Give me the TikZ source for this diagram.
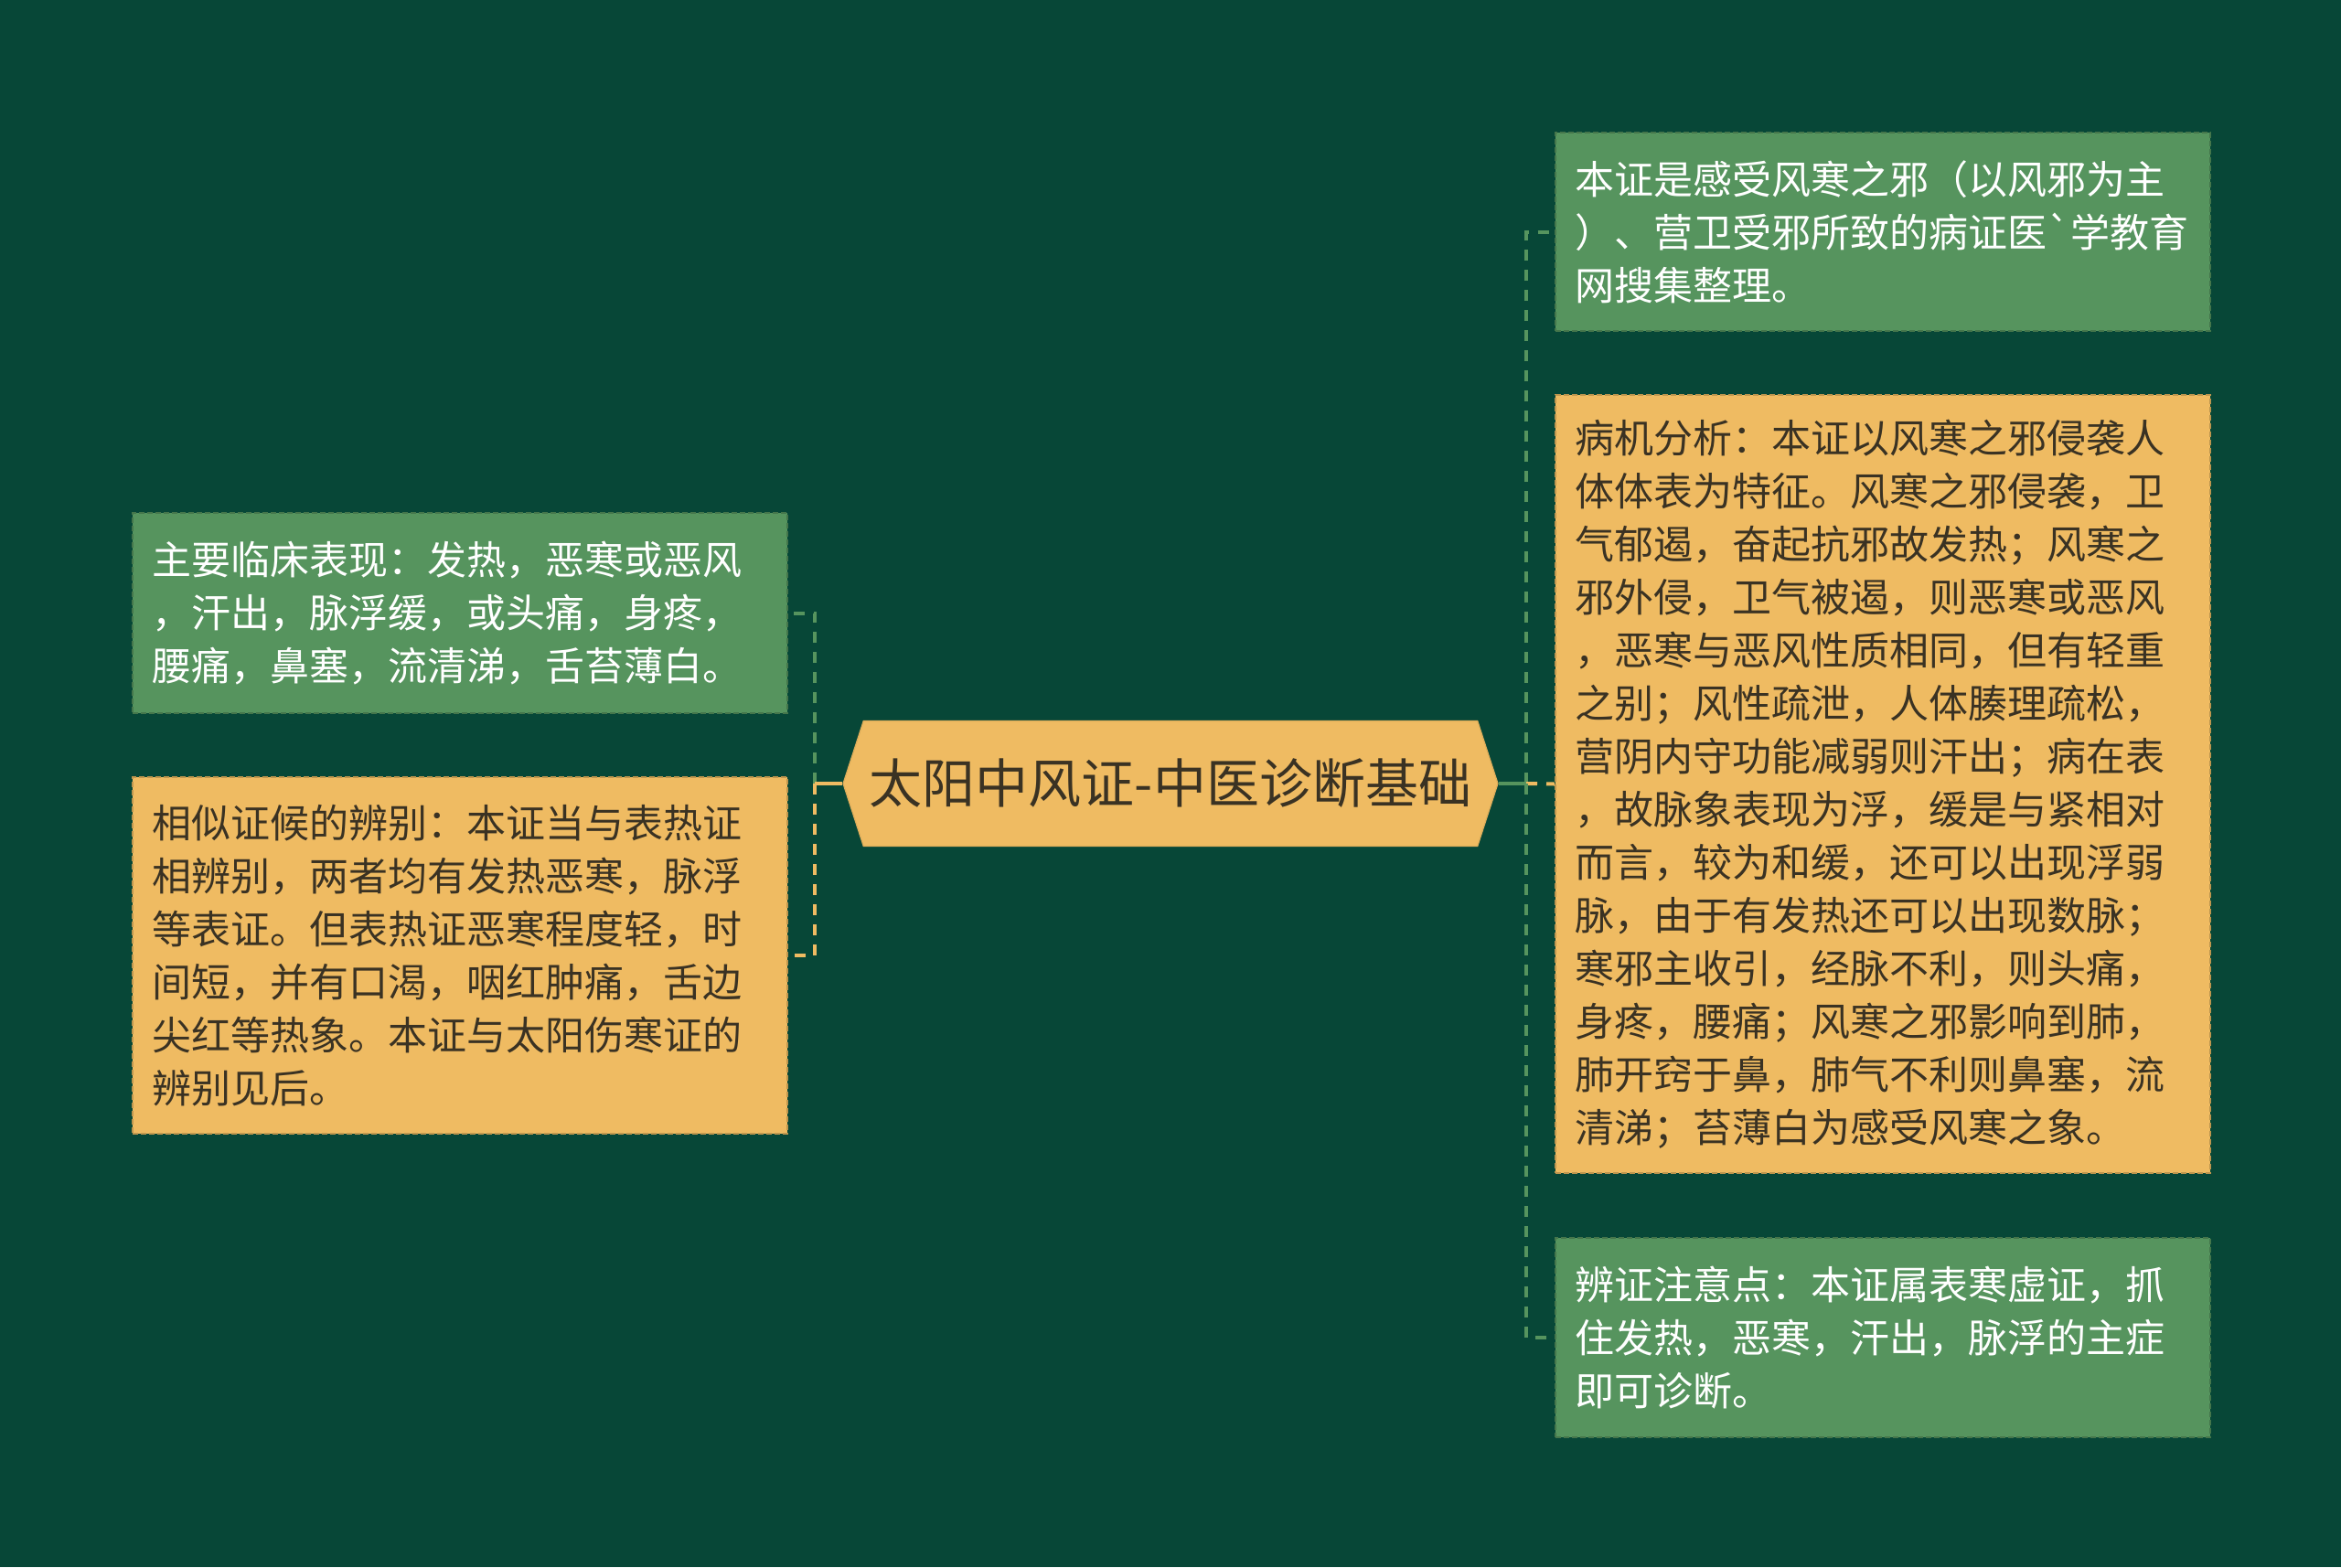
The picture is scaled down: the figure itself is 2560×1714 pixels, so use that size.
\documentclass[tikz,border=0pt]{standalone}
\usepackage{fontspec}
\usepackage{tikz}
\usetikzlibrary{shapes.symbols, positioning}
\newfontfamily\cjkfont{Noto Sans CJK SC}
\definecolor{bgdark}{RGB}{7, 71, 55}
\definecolor{leafgreen}{RGB}{86, 148, 94}
\definecolor{leafgold}{RGB}{239, 187, 98}
\definecolor{inkdark}{RGB}{58, 50, 35}

\begin{document}
\begin{tikzpicture}[x=0.5pt, y=-0.5pt,
    root/.style={shape=signal, signal to=east and west, signal pointer angle=144,
                 fill=leafgold, draw=leafgold!92!black, line width=0.6pt,
                 minimum width=358pt, minimum height=68.5pt, inner sep=0pt,
                 text=inkdark, font=\cjkfont\fontsize{29}{34}\selectfont},
    leaf/.style={rectangle, anchor=north west, text width=337pt, inner xsep=10.5pt,
                 inner ysep=0pt, align=left, line width=1pt, dash pattern=on 3pt off 1.5pt,
                 font=\cjkfont\fontsize{21.5}{29}\selectfont},
    greenleaf/.style={leaf, fill=leafgreen, draw=leafgreen!80!black, text=white},
    goldleaf/.style={leaf, fill=leafgold, draw=leafgold!80!black, text=inkdark},
    link/.style={line width=2pt, dash pattern=on 6pt off 5pt},
    stub/.style={line width=2pt}
]

% Background
\fill[bgdark] (0,0) rectangle (2560,1714);
\useasboundingbox (0,0) rectangle (2560,1714);

% Root node
\node[root] (root) at (1280,857) {太阳中风证-中医诊断基础};

% Left leaves
\node[greenleaf, minimum height=109.5pt] (L1) at (144,560) {主要临床表现：发热，恶寒或恶风\\，汗出，脉浮缓，或头痛，身疼，\\腰痛，鼻塞，流清涕，舌苔薄白。};
\node[goldleaf, minimum height=195pt] (L2) at (144,849) {相似证候的辨别：本证当与表热证\\相辨别，两者均有发热恶寒，脉浮\\等表证。但表热证恶寒程度轻，时\\间短，并有口渴，咽红肿痛，舌边\\尖红等热象。本证与太阳伤寒证的\\辨别见后。};

% Right leaves
\node[greenleaf, minimum height=108.5pt] (R1) at (1700,144) {本证是感受风寒之邪（以风邪为主\\）、营卫受邪所致的病证医\symbol{96}学教育\\网搜集整理。};
\node[goldleaf, minimum height=425.5pt] (R2) at (1700,431) {病机分析：本证以风寒之邪侵袭人\\体体表为特征。风寒之邪侵袭，卫\\气郁遏，奋起抗邪故发热；风寒之\\邪外侵，卫气被遏，则恶寒或恶风\\，恶寒与恶风性质相同，但有轻重\\之别；风性疏泄，人体腠理疏松，\\营阴内守功能减弱则汗出；病在表\\，故脉象表现为浮，缓是与紧相对\\而言，较为和缓，还可以出现浮弱\\脉，由于有发热还可以出现数脉；\\寒邪主收引，经脉不利，则头痛，\\身疼，腰痛；风寒之邪影响到肺，\\肺开窍于鼻，肺气不利则鼻塞，流\\清涕；苔薄白为感受风寒之象。};
\node[greenleaf, minimum height=109pt] (R3) at (1700,1353) {辨证注意点：本证属表寒虚证，抓\\住发热，恶寒，汗出，脉浮的主症\\即可诊断。};

% Junctions
\coordinate (lj) at (891,857);
\coordinate (rj) at (1669,857);

% Connectors
\draw[link, leafgreen] (lj) |- (L1.east);
\draw[link, leafgold] (lj) |- (L2.east);
\draw[stub, leafgold] (root.west) -- (lj);

\draw[link, leafgreen] (rj) |- (R1.west);
\draw[link, leafgold] (rj) -- (R2.west);
\draw[link, leafgreen] (rj) |- (R3.west);
\draw[stub, leafgreen] (root.east) -- (rj);

\end{tikzpicture}
\end{document}
